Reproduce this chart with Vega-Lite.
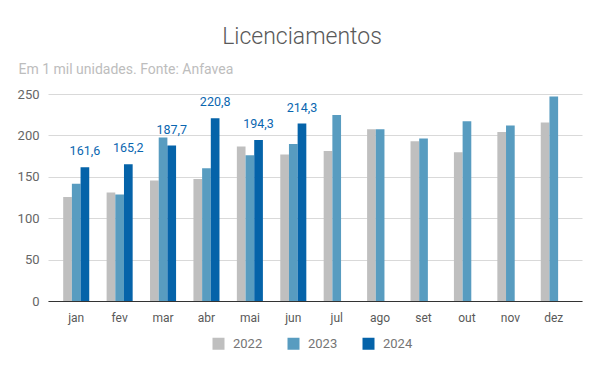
{
  "$schema": "https://vega.github.io/schema/vega-lite/v6.json",
  "width": 534,
  "height": 207,
  "autosize": "none",
  "padding": {"left": 48, "top": 94, "right": 18, "bottom": 70},
  "background": "white",
  "title": {
    "text": "Licenciamentos",
    "anchor": "middle",
    "dx": -13,
    "offset": 13,
    "fontSize": 23,
    "font": "Roboto",
    "fontWeight": 300,
    "color": "#595959"
  },
  "config": {
    "locale": {"number": {"decimal": ",", "thousands": ".", "grouping": [3], "currency": ["R$", ""]}},
    "view": {"stroke": null},
    "font": "Roboto"
  },
  "data": {
    "values": [
      {"mes": "jan", "ano": "2022", "valor": 125.5},
      {"mes": "jan", "ano": "2023", "valor": 141.5},
      {"mes": "jan", "ano": "2024", "valor": 161.6},
      {"mes": "fev", "ano": "2022", "valor": 131},
      {"mes": "fev", "ano": "2023", "valor": 128.5},
      {"mes": "fev", "ano": "2024", "valor": 165.2},
      {"mes": "mar", "ano": "2022", "valor": 145.5},
      {"mes": "mar", "ano": "2023", "valor": 197.5},
      {"mes": "mar", "ano": "2024", "valor": 187.7},
      {"mes": "abr", "ano": "2022", "valor": 147.3},
      {"mes": "abr", "ano": "2023", "valor": 160.2},
      {"mes": "abr", "ano": "2024", "valor": 220.8},
      {"mes": "mai", "ano": "2022", "valor": 186.7},
      {"mes": "mai", "ano": "2023", "valor": 176},
      {"mes": "mai", "ano": "2024", "valor": 194.3},
      {"mes": "jun", "ano": "2022", "valor": 177},
      {"mes": "jun", "ano": "2023", "valor": 189.6},
      {"mes": "jun", "ano": "2024", "valor": 214.3},
      {"mes": "jul", "ano": "2022", "valor": 181.2},
      {"mes": "jul", "ano": "2023", "valor": 224.5},
      {"mes": "ago", "ano": "2022", "valor": 207.3},
      {"mes": "ago", "ano": "2023", "valor": 207.3},
      {"mes": "set", "ano": "2022", "valor": 192.8},
      {"mes": "set", "ano": "2023", "valor": 196.4},
      {"mes": "out", "ano": "2022", "valor": 179.5},
      {"mes": "out", "ano": "2023", "valor": 217},
      {"mes": "nov", "ano": "2022", "valor": 204},
      {"mes": "nov", "ano": "2023", "valor": 212.1},
      {"mes": "dez", "ano": "2022", "valor": 215.7},
      {"mes": "dez", "ano": "2023", "valor": 247.1}
    ]
  },
  "encoding": {
    "x": {
      "field": "mes",
      "type": "nominal",
      "sort": ["jan", "fev", "mar", "abr", "mai", "jun", "jul", "ago", "set", "out", "nov", "dez"],
      "scale": {"paddingInner": 0.4, "paddingOuter": 0.35, "align": 0.5},
      "axis": {
        "title": null,
        "labelAngle": 0,
        "ticks": false,
        "domain": true,
        "domainColor": "#333333",
        "domainWidth": 1,
        "labelPadding": 11,
        "labelFontSize": 12,
        "labelColor": "#595959",
        "labelFont": "Roboto",
        "grid": false
      }
    },
    "xOffset": {"field": "ano", "type": "nominal", "sort": ["2022", "2023", "2024"]},
    "y": {
      "field": "valor",
      "type": "quantitative",
      "scale": {"domain": [0, 250], "nice": false},
      "axis": {
        "values": [0, 50, 100, 150, 200, 250],
        "title": "Em 1 mil unidades. Fonte: Anfavea",
        "titleAngle": 0,
        "titleAlign": "left",
        "titleBaseline": "alphabetic",
        "titleX": -30,
        "titleY": -21,
        "titleFontSize": 14,
        "titleFontWeight": "normal",
        "titleColor": "#bdbdbd",
        "titleFont": "Roboto",
        "domain": false,
        "ticks": false,
        "labelPadding": 9,
        "labelFontSize": 13,
        "labelColor": "#666666",
        "labelFont": "Roboto",
        "gridColor": "#d9d9d9",
        "gridWidth": 1
      }
    }
  },
  "layer": [
    {
      "mark": {"type": "bar"},
      "encoding": {
        "color": {
          "field": "ano",
          "type": "nominal",
          "scale": {"domain": ["2022", "2023", "2024"], "range": ["#bfbfbf", "#589cc0", "#0563a9"]},
          "legend": {
            "title": null,
            "orient": "none",
            "direction": "horizontal",
            "legendX": 164,
            "legendY": 243,
            "symbolType": "square",
            "symbolSize": 144,
            "symbolStrokeWidth": 0,
            "labelFontSize": 13,
            "labelColor": "#757575",
            "labelFont": "Roboto",
            "columnPadding": 24,
            "labelOffset": 8
          }
        }
      }
    },
    {
      "transform": [{"filter": "datum.ano == '2024'"}],
      "mark": {"type": "text", "dy": -12, "baseline": "alphabetic", "fontSize": 12.5, "color": "#0a66b0", "font": "Roboto"},
      "encoding": {
        "text": {"field": "valor", "type": "quantitative", "format": ".1f"}
      }
    }
  ]
}
